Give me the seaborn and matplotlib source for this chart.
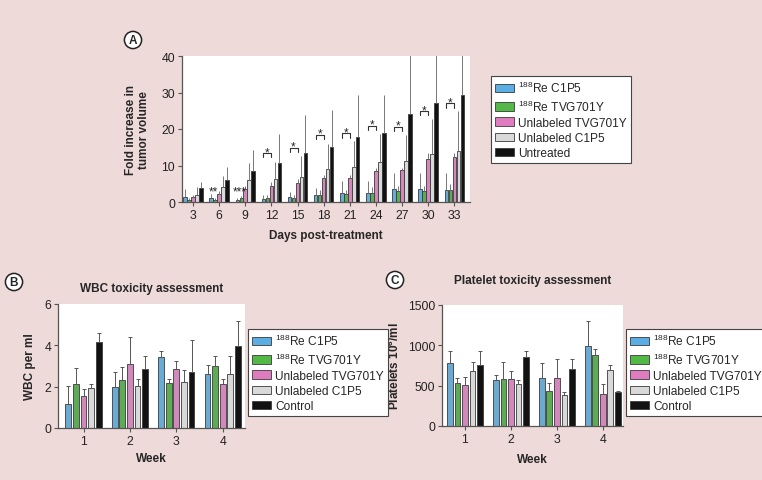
import numpy as np
import pandas as pd
import seaborn as sns
import matplotlib.pyplot as plt
from matplotlib.patches import Patch

# Groups and colours
groups_a = ["$^{188}$Re C1P5", "$^{188}$Re TVG701Y", "Unlabeled TVG701Y", "Unlabeled C1P5", "Untreated"]
groups_bc = ["$^{188}$Re C1P5", "$^{188}$Re TVG701Y", "Unlabeled TVG701Y", "Unlabeled C1P5", "Control"]
colors = ["#5aaee3", "#52b947", "#de7cbf", "#d9d9d9", "#121212"]

# Panel A: fold increase in tumor volume (rows = groups)
days = ["3", "6", "9", "12", "15", "18", "21", "24", "27", "30", "33"]
tumor_mean = [
    [1.5, 1.0, 0.5, 0.9, 1.3, 1.8, 2.4, 2.4, 3.6, 3.5, 3.3],
    [0.6, 0.5, 1.2, 1.1, 1.0, 2.0, 2.1, 2.6, 3.1, 3.0, 3.3],
    [1.5, 2.2, 3.6, 4.4, 5.1, 6.6, 6.7, 8.6, 8.7, 11.8, 12.3],
    [2.0, 4.0, 6.0, 6.2, 6.8, 9.0, 9.5, 11.0, 11.1, 13.1, 13.9],
    [3.8, 6.1, 8.4, 10.8, 13.3, 15.2, 17.9, 18.8, 24.2, 27.0, 29.2],
]
tumor_top = [
    [3.5, 2.2, 1.2, 2.0, 2.8, 3.8, 5.7, 5.7, 7.9, 7.9, 7.9],
    [1.0, 1.0, 1.6, 1.8, 2.0, 3.3, 3.3, 4.0, 4.5, 4.5, 4.8],
    [2.0, 3.0, 4.5, 5.5, 6.3, 7.5, 7.5, 9.4, 9.4, 13.3, 13.5],
    [4.0, 7.0, 10.7, 11.0, 12.5, 16.0, 16.7, 18.5, 18.3, 22.7, 25.0],
    [5.5, 9.5, 14.2, 18.6, 23.8, 25.1, 29.3, 29.2, 45.0, 45.0, 45.0],
]
# significance brackets (blue vs pink) and stars
bracket_days = ["12", "15", "18", "21", "24", "27", "30", "33"]
bracket_y = [13.4, 14.8, 18.4, 18.8, 20.9, 20.6, 24.9, 27.0]
star_days = ["6", "9"]
star_text = ["**", "***"]
star_y = [3.0, 3.0]

# Panel B: WBC
weeks = ["1", "2", "3", "4"]
wbc_mean = [
    [1.15, 2.0, 3.42, 2.6],
    [2.15, 2.32, 2.2, 3.0],
    [1.57, 3.08, 2.87, 2.12],
    [1.92, 2.03, 2.24, 2.6],
    [4.18, 2.87, 2.72, 3.98],
]
wbc_top = [
    [2.05, 2.7, 3.74, 3.03],
    [2.9, 2.95, 2.35, 3.47],
    [1.9, 4.38, 3.22, 2.38],
    [2.12, 2.38, 2.8, 3.47],
    [4.62, 3.47, 4.27, 5.18],
]

# Panel C: platelets
plt_mean = [
    [776, 565, 600, 990],
    [535, 585, 430, 875],
    [505, 585, 600, 395],
    [680, 515, 385, 700],
    [760, 860, 705, 420],
]
plt_top = [
    [930, 630, 780, 1300],
    [590, 790, 530, 955],
    [610, 680, 830, 525],
    [790, 565, 420, 760],
    [930, 930, 830, 440],
]

sns.set_style("ticks", {"axes.facecolor": "white"})
plt.rcParams["font.family"] = ["Liberation Sans", "DejaVu Sans"]
plt.rcParams["mathtext.default"] = "regular"
plt.rcParams["font.size"] = 8.5

bg = "#efdada"
W, H = 762, 481
fig = plt.figure(figsize=(W / 100, H / 100), dpi=100, facecolor=bg)
ax_a = fig.add_axes([182 / W, 1 - 203 / H, 288 / W, 146 / H])
ax_b = fig.add_axes([58 / W, 1 - 429 / H, 187 / W, 124 / H])
ax_c = fig.add_axes([442 / W, 1 - 427 / H, 181 / W, 121 / H])


def bar_panel(ax, cats, means, tops, names, width, gap, capsize, ecolor):
    df = pd.DataFrame({
        "cat": np.tile(cats, len(names)),
        "grp": np.repeat(names, len(cats)),
        "val": np.ravel(means),
    })
    sns.barplot(data=df, x="cat", y="val", hue="grp", order=cats, hue_order=names,
                palette=colors, width=width, gap=gap, edgecolor="#3a3a3a",
                linewidth=0.6, errorbar=None, legend=False, ax=ax)
    conts = list(ax.containers)[:len(names)]
    for cont, top in zip(conts, tops):
        for bar in cont:
            xc = bar.get_x() + bar.get_width() / 2
            h = bar.get_height()
            t = top[int(round(xc))]
            ax.errorbar(xc, h, yerr=[[0], [t - h]], fmt="none", ecolor=ecolor,
                        elinewidth=0.7, capsize=capsize, capthick=0.7, zorder=3)
    return conts


def style_axes(ax):
    sns.despine(ax=ax)
    for s in ["left", "bottom"]:
        ax.spines[s].set_color("#555555")
        ax.spines[s].set_linewidth(0.9)
    ax.tick_params(length=3, width=0.8, color="#555555", labelsize=8.8, pad=2,
                   labelcolor="#222222")
    ax.set_facecolor("white")


def legend_box(names, x, y):
    handles = [Patch(facecolor=c, edgecolor="#3a3a3a", linewidth=0.6) for c in colors]
    leg = fig.legend(handles, names, loc="upper left", bbox_to_anchor=(x / W, 1 - y / H),
                     frameon=True, fancybox=False, framealpha=1, fontsize=8.6,
                     handlelength=1.6, handleheight=0.7, handletextpad=0.3,
                     labelspacing=0.26, borderpad=0.35, borderaxespad=0)
    leg.get_frame().set_edgecolor("#444444")
    leg.get_frame().set_facecolor("white")
    leg.get_frame().set_linewidth(0.8)


def panel_letter(letter, x, y):
    fig.text(x / W, 1 - y / H, letter, ha="center", va="center", fontsize=8.5,
             fontweight="bold",
             bbox=dict(boxstyle="circle,pad=0.22", fc="white", ec="#222222", lw=1.1))


# Panel A
conts = bar_panel(ax_a, days, tumor_mean, tumor_top, groups_a, 0.76, 0.12, 0, "#777777")
style_axes(ax_a)
ax_a.set_ylim(0, 40)
ax_a.set_yticks([0, 10, 20, 30, 40])
ax_a.set_xlim(-0.42, 10.6)
ax_a.set_xlabel("Days post-treatment", fontweight="bold", fontsize=8.5, labelpad=6)
ax_a.set_ylabel("Fold increase in\ntumor volume", fontweight="bold", fontsize=8.5,
                labelpad=8, linespacing=1.1)


def bar_center(cont, cat):
    bar = cont[days.index(cat)]
    return bar.get_x() + bar.get_width() / 2


for d, y in zip(bracket_days, bracket_y):
    x0 = bar_center(conts[0], d)
    x1 = bar_center(conts[2], d)
    ax_a.plot([x0, x0, x1, x1], [y - 1.2, y, y, y - 1.2], color="#333333", lw=0.8)
    ax_a.text((x0 + x1) / 2, y + 0.3, "*", ha="center", va="center", fontsize=8.5)

for d, s, y in zip(star_days, star_text, star_y):
    x = (bar_center(conts[0], d) + bar_center(conts[1], d)) / 2
    ax_a.text(x, y, s, ha="center", va="center", fontsize=8.5)

# Panel B
bar_panel(ax_b, weeks, wbc_mean, wbc_top, groups_bc, 0.82, 0.25, 1.3, "#555555")
style_axes(ax_b)
ax_b.set_ylim(0, 6)
ax_b.set_yticks([0, 2, 4, 6])
ax_b.set_xlim(-0.55, 3.48)
ax_b.set_xlabel("Week", fontweight="bold", fontsize=8.5, labelpad=4)
ax_b.set_ylabel("WBC per ml", fontweight="bold", fontsize=8.5, labelpad=6)
ax_b.set_title("WBC toxicity assessment", fontweight="bold", fontsize=8.5, pad=9)

# Panel C
bar_panel(ax_c, weeks, plt_mean, plt_top, groups_bc, 0.82, 0.25, 1.3, "#555555")
style_axes(ax_c)
ax_c.set_ylim(0, 1500)
ax_c.set_yticks([0, 500, 1000, 1500])
ax_c.set_xlim(-0.5, 3.44)
ax_c.set_xlabel("Week", fontweight="bold", fontsize=8.5, labelpad=6)
ax_c.set_ylabel("Platelets 10$^{6}$/ml", fontweight="bold", fontsize=8.5, labelpad=4)
ax_c.set_title("Platelet toxicity assessment", fontweight="bold", fontsize=8.5, pad=16)

legend_box(groups_a, 491, 77)
legend_box(groups_bc, 248, 330)
legend_box(groups_bc, 626, 330)

panel_letter("A", 133, 41)
panel_letter("B", 14, 283)
panel_letter("C", 395, 281)

fig.savefig("out.png", dpi=100, facecolor=bg)
